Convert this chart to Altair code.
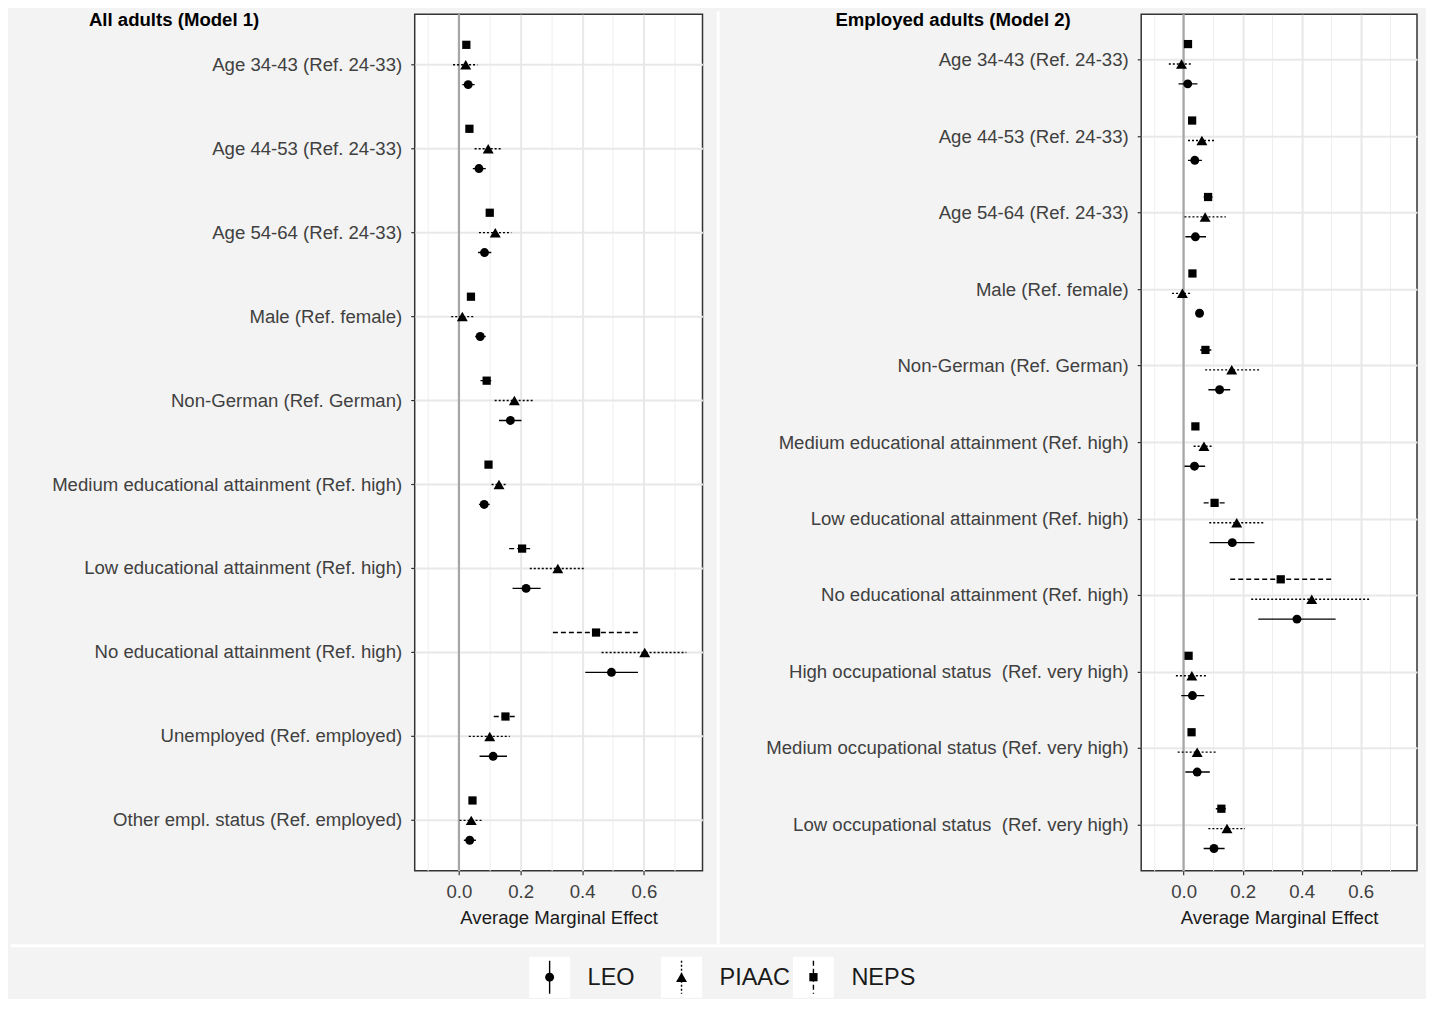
import altair as alt
import pandas as pd

series = ["LEO", "PIAAC", "NEPS"]
offset_order = ["NEPS", "PIAAC", "LEO"]
panel_titles = ["All adults (Model 1)", "Employed adults (Model 2)"]
x_ticks = [-0.1, 0.0, 0.1, 0.2, 0.3, 0.4, 0.5, 0.6, 0.7]
x_title = "Average Marginal Effect"

cats1 = [
    "Age 34-43 (Ref. 24-33)",
    "Age 44-53 (Ref. 24-33)",
    "Age 54-64 (Ref. 24-33)",
    "Male (Ref. female)",
    "Non-German (Ref. German)",
    "Medium educational attainment (Ref. high)",
    "Low educational attainment (Ref. high)",
    "No educational attainment (Ref. high)",
    "Unemployed (Ref. employed)",
    "Other empl. status (Ref. employed)",
]
leo1_est = [0.030, 0.065, 0.083, 0.069, 0.167, 0.082, 0.218, 0.495, 0.111, 0.035]
leo1_lo = [0.011, 0.045, 0.062, 0.053, 0.130, 0.065, 0.174, 0.410, 0.067, 0.016]
leo1_hi = [0.051, 0.087, 0.105, 0.087, 0.203, 0.100, 0.265, 0.581, 0.156, 0.055]
piaac1_est = [0.022, 0.095, 0.118, 0.011, 0.180, 0.130, 0.321, 0.603, 0.100, 0.040]
piaac1_lo = [-0.019, 0.051, 0.065, -0.025, 0.116, 0.106, 0.230, 0.463, 0.032, 0.002]
piaac1_hi = [0.060, 0.140, 0.170, 0.048, 0.243, 0.155, 0.405, 0.738, 0.165, 0.079]
neps1_est = [0.024, 0.034, 0.100, 0.039, 0.090, 0.096, 0.205, 0.445, 0.151, 0.044]
neps1_lo = [0.016, 0.026, 0.090, 0.032, 0.070, 0.088, 0.163, 0.305, 0.113, 0.033]
neps1_hi = [0.033, 0.043, 0.110, 0.046, 0.105, 0.104, 0.240, 0.585, 0.189, 0.055]

cats2 = [
    "Age 34-43 (Ref. 24-33)",
    "Age 44-53 (Ref. 24-33)",
    "Age 54-64 (Ref. 24-33)",
    "Male (Ref. female)",
    "Non-German (Ref. German)",
    "Medium educational attainment (Ref. high)",
    "Low educational attainment (Ref. high)",
    "No educational attainment (Ref. high)",
    "High occupational status\u00a0 (Ref. very high)",
    "Medium occupational status (Ref. very high)",
    "Low occupational status\u00a0 (Ref. very high)",
]
leo2_est = [0.014, 0.038, 0.040, 0.054, 0.122, 0.037, 0.165, 0.384, 0.030, 0.046, 0.103]
leo2_lo = [-0.017, 0.015, 0.006, 0.043, 0.084, 0.003, 0.088, 0.253, -0.008, 0.006, 0.068]
leo2_hi = [0.047, 0.062, 0.076, 0.066, 0.158, 0.073, 0.240, 0.515, 0.070, 0.089, 0.139]
piaac2_est = [-0.007, 0.062, 0.073, -0.004, 0.163, 0.069, 0.180, 0.434, 0.028, 0.046, 0.147]
piaac2_lo = [-0.050, 0.015, 0.003, -0.039, 0.073, 0.034, 0.087, 0.229, -0.026, -0.020, 0.084]
piaac2_hi = [0.030, 0.109, 0.143, 0.028, 0.256, 0.099, 0.270, 0.632, 0.082, 0.115, 0.208]
neps2_est = [0.015, 0.029, 0.083, 0.030, 0.074, 0.040, 0.105, 0.329, 0.017, 0.027, 0.128]
neps2_lo = [0.008, 0.022, 0.068, 0.023, 0.056, 0.032, 0.068, 0.158, 0.010, 0.019, 0.109]
neps2_hi = [0.022, 0.036, 0.098, 0.037, 0.094, 0.048, 0.143, 0.501, 0.024, 0.035, 0.143]


def long_table(cats, est, lo, hi):
    rows = []
    for s in series:
        for i, c in enumerate(cats):
            rows.append({"category": c, "series": s,
                         "est": est[s][i], "lo": lo[s][i], "hi": hi[s][i]})
    return pd.DataFrame(rows)


df1 = long_table(cats1,
                 {"LEO": leo1_est, "PIAAC": piaac1_est, "NEPS": neps1_est},
                 {"LEO": leo1_lo, "PIAAC": piaac1_lo, "NEPS": neps1_lo},
                 {"LEO": leo1_hi, "PIAAC": piaac1_hi, "NEPS": neps1_hi})
df2 = long_table(cats2,
                 {"LEO": leo2_est, "PIAAC": piaac2_est, "NEPS": neps2_est},
                 {"LEO": leo2_lo, "PIAAC": piaac2_lo, "NEPS": neps2_lo},
                 {"LEO": leo2_hi, "PIAAC": piaac2_hi, "NEPS": neps2_hi})

FONT = "Liberation Sans"
FS = 18.6
major_test = "abs(round(datum.value*10)) % 2 == 0"

xscale = alt.Scale(domain=[-0.1435, 0.7905], nice=False, zero=False)
xaxis = alt.Axis(
    title=x_title, titleFontSize=FS, titleFontWeight="normal", titleColor="#1a1a1a",
    titlePadding=7, values=x_ticks,
    labelExpr=f"{major_test} ? format(datum.value, '.1f') : ''",
    labelFontSize=FS, labelColor="#404040", labelPadding=8, labelFlush=False,
    labelOverlap=False, domain=False, tickSize=4, tickColor="#333333", tickWidth=1.2,
    tickOpacity={"condition": {"test": major_test, "value": 1}, "value": 0},
    grid=True,
    gridColor={"condition": {"test": major_test, "value": "#e8e8e8"}, "value": "#eeeeee"},
    gridWidth={"condition": {"test": major_test, "value": 2}, "value": 1},
)

dash_scale = alt.Scale(domain=series, range=[[1, 0], [2, 2], [5, 3]])
shape_scale = alt.Scale(domain=series, range=["circle", "triangle-up", "square"])
size_scale = alt.Scale(type="ordinal", domain=series, range=[80, 120, 68])


def panel(df, cats, title, width, title_x, sep_x=None):
    yaxis = alt.Axis(title=None, labelFontSize=FS, labelColor="#404040", labelPadding=9,
                     labelLimit=700, tickSize=4, tickColor="#333333", tickWidth=1.2,
                     domain=False, grid=True, gridColor="#e8e8e8", gridWidth=2)
    y = alt.Y("category:N", sort=cats,
              scale=alt.Scale(domain=cats, paddingInner=0, paddingOuter=0.1), axis=yaxis)
    yoff = alt.YOffset("series:N",
                       scale=alt.Scale(domain=offset_order, paddingInner=0, paddingOuter=0.61))
    base = alt.Chart(df)
    zero = alt.Chart(pd.DataFrame({"est": [0.0]})).mark_rule(
        color="#a6a6a6", strokeWidth=2.2).encode(x=alt.X("est:Q", scale=xscale, axis=xaxis))
    rules = base.mark_rule(color="black", strokeWidth=1.4).encode(
        x=alt.X("lo:Q", scale=xscale, axis=xaxis), x2="hi:Q", y=y, yOffset=yoff,
        strokeDash=alt.StrokeDash("series:N", scale=dash_scale, legend=None))
    pts = base.mark_point(filled=True, color="black", opacity=1).encode(
        x=alt.X("est:Q", scale=xscale, axis=xaxis), y=y, yOffset=yoff,
        shape=alt.Shape("series:N", scale=shape_scale, legend=None),
        size=alt.Size("series:N", scale=size_scale, legend=None))
    ttl = alt.Chart(pd.DataFrame({"t": [title]})).mark_text(
        align="left", baseline="top", fontSize=FS, fontWeight="bold", color="black").encode(
        x=alt.value(title_x), y=alt.value(-3), text="t:N")
    layers = [zero, rules, pts, ttl]
    if sep_x is not None:
        sep = alt.Chart(pd.DataFrame({"a": [0]})).mark_rule(color="white", strokeWidth=3).encode(
            x=alt.value(sep_x), y=alt.value(-3), y2=alt.value(930))
        layers.append(sep)
    return alt.layer(*layers).properties(
        width=width, height=857,
        view=alt.ViewBackground(fill="white", stroke="#333333", strokeWidth=1.5))


left = panel(df1, cats1, panel_titles[0], 288, -326, sep_x=303.7)
right = panel(df2, cats2, panel_titles[1], 276, -306)

# legend (drawn from the series list)
leg_df = pd.DataFrame({"series": series})
xleg = alt.X("series:N", sort=series,
             scale=alt.Scale(domain=series, range=[113, 509], paddingInner=0, paddingOuter=0),
             axis=None)
lbase = alt.Chart(leg_df)
keys = lbase.mark_square(size=1681, color="white", opacity=1, xOffset=-44).encode(
    x=xleg, y=alt.value(20.5))
vlines = lbase.mark_rule(color="black", strokeWidth=1.4, xOffset=-44).encode(
    x=xleg, y=alt.value(4), y2=alt.value(37),
    strokeDash=alt.StrokeDash("series:N", scale=dash_scale, legend=None))
lpts = lbase.mark_point(filled=True, color="black", opacity=1, xOffset=-44).encode(
    x=xleg, y=alt.value(20.5),
    shape=alt.Shape("series:N", scale=shape_scale, legend=None),
    size=alt.Size("series:N", scale=size_scale, legend=None))
ltext = lbase.mark_text(align="left", baseline="middle", dx=-6, fontSize=23.5, color="#1a1a1a").encode(
    x=xleg, y=alt.value(21), text="series:N")
hline = alt.Chart(pd.DataFrame({"a": [0]})).mark_rule(color="white", strokeWidth=3).encode(
    x=alt.value(-404.5), x2=alt.value(1010), y=alt.value(-11))
legend = alt.layer(hline, keys, vlines, lpts, ltext).properties(
    width=288, height=41,
    view=alt.ViewBackground(fill="transparent", stroke="transparent"))

chart = alt.concat(
    left, right, legend, columns=2,
    spacing={"row": 86, "column": 439}, bounds="flush", align="each",
).properties(background="#f3f3f3", padding=0).configure(font=FONT)

chart.save("out.html", embed_options={"renderer": "svg", "actions": False})
